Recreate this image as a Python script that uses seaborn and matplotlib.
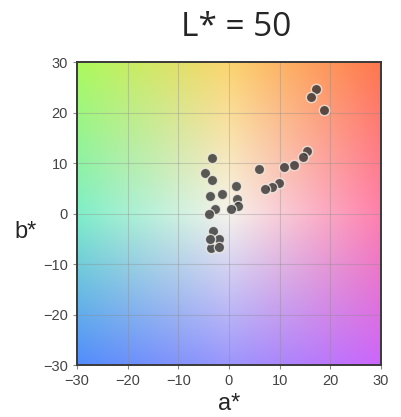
import numpy as np
import pandas as pd
import matplotlib
matplotlib.use("Agg")
import matplotlib.pyplot as plt
import seaborn as sns

# measured a*, b* values of the samples
a_vals = [17.1, 16.2, 18.8, 15.4, 14.6, 12.9, 10.9, 6.0, 9.9, 8.5, 7.1,
          -3.4, -4.8, -3.4, 1.4, -3.8, -1.3, 1.5, 1.8, 0.5, -2.7, -3.9,
          -3.2, -2.0, -3.6, -3.8, -2.0]
b_vals = [24.6, 23.0, 20.4, 12.4, 11.25, 9.7, 9.3, 8.9, 6.1, 5.25, 4.9,
          11.0, 8.1, 6.6, 5.5, 3.5, 3.9, 2.8, 1.5, 0.8, 0.9, 0.0,
          -3.5, -5.0, -6.8, -5.1, -6.6]
ticks = [-30, -20, -10, 0, 10, 20, 30]

df = pd.DataFrame({"a": a_vals, "b": b_vals})

sns.set_theme(style="ticks")
plt.rcParams["font.family"] = ["Liberation Sans", "DejaVu Sans"]

fig = plt.figure(figsize=(4.02, 4.17), dpi=100)
ax = fig.add_axes([0.1915, 0.1247, 0.756, 0.7266])

# background colour plane (3x3 anchor colours, rows top->bottom)
anchors = np.array([
    [[172, 250, 92], [252, 212, 112], [255, 118, 78]],
    [[128, 238, 200], [246, 243, 236], [255, 128, 172]],
    [[82, 140, 252], [155, 150, 252], [204, 102, 252]],
], dtype=float) / 255.0
n = 200
t = np.linspace(0, 2, n)
i0 = np.clip(np.floor(t).astype(int), 0, 1)
f = t - i0
rows = (anchors[i0] * (1 - f)[:, None, None] + anchors[i0 + 1] * f[:, None, None])
bg = rows[:, i0] * (1 - f)[None, :, None] + rows[:, i0 + 1] * f[None, :, None]
ax.imshow(bg, extent=[-30, 30, -30, 30], origin="upper", aspect="auto",
          interpolation="bilinear", zorder=0)

for v in ticks[1:-1]:
    ax.axvline(v, color="#8a8a8a", lw=0.8, alpha=0.35, zorder=1)
    ax.axhline(v, color="#8a8a8a", lw=0.8, alpha=0.35, zorder=1)

sns.scatterplot(data=df, x="a", y="b", ax=ax, s=55, color="#333333",
                alpha=0.8, edgecolor="#f4efe8", linewidth=1.0, zorder=3)

ax.set_xlim(-30, 30)
ax.set_ylim(-30, 30)
ax.set_xticks(ticks)
ax.set_yticks(ticks)
ax.tick_params(labelsize=10.5, labelcolor="#444444", color="#888888", length=3, width=0.8)
for sp in ax.spines.values():
    sp.set_color("#3a3a3a")
    sp.set_linewidth(1.4)

ax.set_xlabel("a*", fontsize=17, va="center")
ax.set_ylabel("b*", fontsize=17, rotation=0, va="center", ha="center")
ax.xaxis.set_label_coords(0.5, -0.13)
ax.yaxis.set_label_coords(-0.17, 0.44)
fig.text(0.587, 0.935, "L* = 50", fontsize=24, ha="center", va="center",
         family=["Open Sans", "DejaVu Sans"])

fig.savefig("out.png", dpi=100)
